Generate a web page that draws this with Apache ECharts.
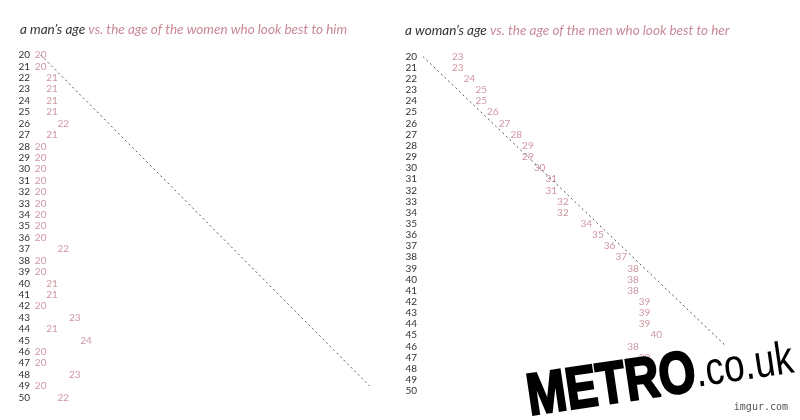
<!DOCTYPE html>
<html lang="en">
<head>
    <meta charset="UTF-8">
    <title>Age preferences</title>
    <script src="https://cdn.jsdelivr.net/npm/echarts@6/dist/echarts.min.js"></script>
</head>
<body style="margin:0;background:#fff;">
<div id="chart" style="width: 800px; height: 420px;"></div>
<script>
    // row labels (own age)
    var ages = ['20', '21', '22', '23', '24', '25', '26', '27', '28', '29', '30',
        '31', '32', '33', '34', '35', '36', '37', '38', '39', '40',
        '41', '42', '43', '44', '45', '46', '47', '48', '49', '50'];
    // age of women who look best to a man of that age
    var menPref = [20, 20, 21, 21, 21, 21, 22, 21, 20, 20, 20,
        20, 20, 20, 20, 20, 20, 22, 20, 20, 21,
        21, 20, 23, 21, 24, 20, 20, 23, 20, 22];
    // age of men who look best to a woman of that age (48-50 hidden under the watermark)
    var womenPref = [23, 23, 24, 25, 25, 26, 27, 28, 29, 29, 30,
        31, 31, 32, 32, 34, 35, 36, 37, 38, 38,
        38, 39, 39, 39, 40, 38, 39, null, null, null];
    // the dotted "same age" reference line, start and end age
    var menLine = [20, 49];
    var womenLine = [20, 46];

    var pink = '#c47a8a';
    var font = 'Lato';

    function points(pref) {
        var out = [];
        for (var i = 0; i < ages.length; i++) {
            if (pref[i] != null) out.push([pref[i], +ages[i]]);
        }
        return out;
    }

    function diag(l) {
        return [[l[0], l[0]], [l[1], l[1]]];
    }

    function yAx(idx, margin) {
        return {
            type: 'value', gridIndex: idx, inverse: true, min: 20, max: 50, interval: 1,
            axisLine: {show: false}, axisTick: {show: false}, splitLine: {show: false},
            axisLabel: {
                color: '#333', fontSize: 10, fontFamily: font, margin: margin,
                formatter: function (v) { return ages[v - 20]; }
            }
        };
    }

    function xAx(idx) {
        return {type: 'value', gridIndex: idx, min: 19.5, max: 50, show: false};
    }

    function labels(idx, pref) {
        return {
            type: 'scatter', xAxisIndex: idx, yAxisIndex: idx, silent: true,
            symbolSize: 1, itemStyle: {color: 'rgba(0,0,0,0)'},
            data: points(pref),
            label: {
                show: true, position: 'inside', color: pink, fontSize: 10, fontFamily: font,
                formatter: function (p) { return p.value[0]; }
            }
        };
    }

    function dashed(idx, l) {
        return {
            type: 'line', xAxisIndex: idx, yAxisIndex: idx, silent: true, symbol: 'none',
            data: diag(l),
            lineStyle: {color: '#555', width: 1, type: [2, 3]}
        };
    }

    function titleRich() {
        return {
            a: {color: '#333', fontSize: 13.5, fontStyle: 'italic', fontWeight: 'normal', fontFamily: font},
            b: {color: '#c98a97', fontSize: 13.5, fontStyle: 'italic', fontWeight: 'normal', fontFamily: font}
        };
    }

    var chart = echarts.init(document.getElementById('chart'));
    chart.setOption({
        animation: false,
        title: [{
            left: 15, top: 18,
            text: '{a|a man’s age}{b| vs. the age of the women who look best to him}',
            textStyle: {fontWeight: 'normal', rich: titleRich()}
        }, {
            left: 400, top: 19,
            text: '{a|a woman’s age}{b| vs. the age of the men who look best to her}',
            textStyle: {fontWeight: 'normal', rich: titleRich()}
        }],
        grid: [
            {left: 35, right: 419, top: 55, bottom: 22.5},
            {left: 417, right: 27, top: 56.5, bottom: 29}
        ],
        xAxis: [xAx(0), xAx(1)],
        yAxis: [yAx(0, 5), yAx(1, 0)],
        series: [
            dashed(0, menLine),
            labels(0, menPref),
            dashed(1, womenLine),
            labels(1, womenPref)
        ],
        graphic: [{
            type: 'text', x: 532, y: 428, rotation: 0.147, scaleY: 1.25, z: 100,
            style: {
                text: '{m|METRO}{c|.co.uk}',
                textVerticalAlign: 'bottom',
                rich: {
                    m: {fontFamily: 'Liberation Sans', fontWeight: 900, fontSize: 47, fill: '#000',
                        stroke: '#000', lineWidth: 2},
                    c: {fontFamily: 'Liberation Sans', fontSize: 37, fill: '#000'}
                }
            }
        }, {
            type: 'text', right: 12, bottom: 8, z: 100,
            style: {text: 'imgur.com', fontFamily: 'DejaVu Sans Mono', fontSize: 10, fill: '#555'}
        }]
    });
</script>
</body>
</html>
